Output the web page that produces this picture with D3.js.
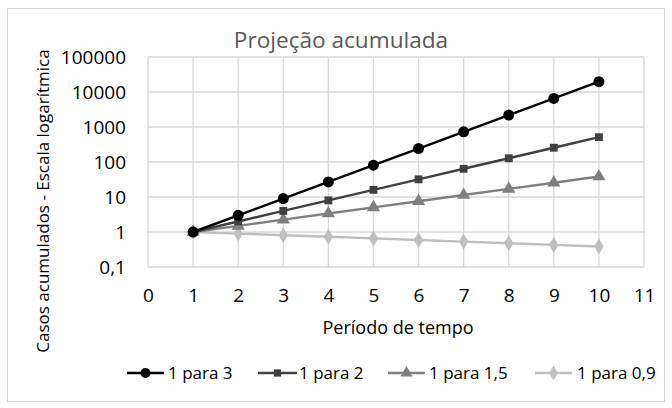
<!DOCTYPE html>
<html><head><meta charset="utf-8">
<script src="https://cdn.jsdelivr.net/npm/d3@7"></script>
<style>body{margin:0;background:#fff}svg{display:block}</style>
</head><body>
<svg id="c" width="672" height="408"></svg>
<script>
const periods = [1,2,3,4,5,6,7,8,9,10];
const s3   = [1,3,9,27,81,243,729,2187,6561,19683];
const s2   = [1,2,4,8,16,32,64,128,256,512];
const s15  = [1,1.5,2.25,3.375,5.06,7.59,11.39,17.09,25.63,38.44];
const s09  = [1,0.9,0.81,0.729,0.656,0.59,0.531,0.478,0.43,0.387];
const seriesNames = ["1 para 3","1 para 2","1 para 1,5","1 para 0,9"];
const xTicks = [0,1,2,3,4,5,6,7,8,9,10,11];
const yTicks = [0.1,1,10,100,1000,10000,100000];
const yTickLabels = ["0,1","1","10","100","1000","10000","100000"];

const colors = ["#000000","#404040","#7f7f7f","#bfbfbf"];
const shapes = [d3.symbolCircle,d3.symbolSquare,d3.symbolTriangle,d3.symbolDiamond];
const sizes = [95,62,75,75];
const allSeries = [s3,s2,s15,s09];

const svg = d3.select("#c");
const font = "'Open Sans', sans-serif";
svg.append("rect").attr("x",7.5).attr("y",8.5).attr("width",657).attr("height",393)
  .attr("fill","#fff").attr("stroke","#d9d9d9");

const L=148,R=644,T=57,B=267;
const x = d3.scaleLinear().domain([0,11]).range([L,R]);
const y = d3.scaleLog().domain([0.1,100000]).range([B,T]);

// grid
const g = svg.append("g");
g.selectAll(".vx").data(xTicks).join("line")
  .attr("x1",d=>x(d)).attr("x2",d=>x(d)).attr("y1",T).attr("y2",B)
  .attr("stroke","#d9d9d9").attr("stroke-width",1.3);
g.selectAll(".hy").data(yTicks).join("line")
  .attr("x1",L).attr("x2",R).attr("y1",d=>y(d)).attr("y2",d=>y(d))
  .attr("stroke","#d9d9d9").attr("stroke-width",1.3);

// axes labels
const xa = svg.append("g").attr("transform",`translate(0,${B+29})`)
  .call(d3.axisBottom(x).tickValues(xTicks).tickSize(0).tickFormat(d=>d));
xa.select(".domain").remove();
xa.selectAll("text").attr("font-family",font).attr("font-size",19).attr("fill","#000").attr("dy","0.32em").attr("y",0);

const ya = svg.append("g").attr("transform",`translate(${L-22},0)`)
  .call(d3.axisLeft(y).tickValues(yTicks).tickSize(0).tickFormat((d,i)=>yTickLabels[i]));
ya.select(".domain").remove();
ya.selectAll("text").attr("font-family",font).attr("font-size",19).attr("fill","#000").attr("x",0).attr("dy","0.34em");

// titles
svg.append("text").attr("x",341).attr("y",40).attr("text-anchor","middle").attr("dy","0.35em")
  .attr("font-family",font).attr("font-size",22.6).attr("fill","#595959").text("Projeção acumulada");
svg.append("text").attr("x",398).attr("y",328).attr("text-anchor","middle").attr("dy","0.35em")
  .attr("font-family",font).attr("font-size",18).attr("fill","#000").text("Período de tempo");
svg.append("text").attr("transform",`translate(43,201) rotate(-90)`).attr("text-anchor","middle").attr("dy","0.35em")
  .attr("font-family",font).attr("font-size",17).attr("fill","#000").text("Casos acumulados - Escala logarítmica");

// series
const line = d3.line().x((d,i)=>x(periods[i])).y(d=>y(d));
[3,2,1,0].forEach(k=>{
  const s = allSeries[k];
  svg.append("path").datum(s).attr("d",line).attr("fill","none")
    .attr("stroke",colors[k]).attr("stroke-width",2.4);
  svg.append("g").selectAll("path").data(s).join("path")
    .attr("transform",(d,i)=>`translate(${x(periods[i])},${y(d)})`)
    .attr("d",d3.symbol().type(shapes[k]).size(sizes[k])).attr("fill",colors[k]);
});

// legend
const legLine = [[127,164],[258,297],[388,425],[535,572]];
const legText = [168,299,429,577];
seriesNames.forEach((n,k)=>{
  const ly = 373;
  const [a,b] = legLine[k];
  svg.append("line").attr("x1",a).attr("x2",b).attr("y1",ly).attr("y2",ly)
    .attr("stroke",colors[k]).attr("stroke-width",2.4);
  svg.append("path").attr("transform",`translate(${(a+b)/2},${ly})`)
    .attr("d",d3.symbol().type(shapes[k]).size(sizes[k]*0.85)).attr("fill",colors[k]);
  svg.append("text").attr("x",legText[k]).attr("y",ly).attr("dy","0.35em")
    .attr("font-family",font).attr("font-size",17).attr("fill","#000").text(n);
});
</script>
</body></html>
